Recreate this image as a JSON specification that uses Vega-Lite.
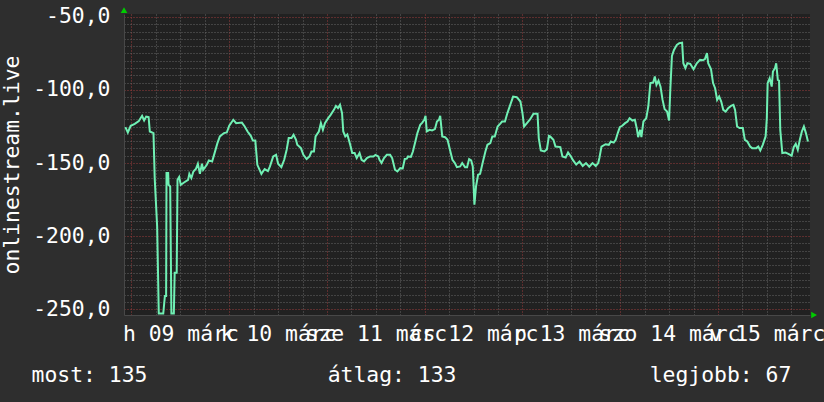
{
  "$schema": "https://vega.github.io/schema/vega-lite/v6.json",
  "width": 686,
  "height": 301,
  "autosize": "none",
  "padding": {"left": 124, "top": 14, "right": 14, "bottom": 87},
  "background": "#2e2e2e",
  "config": {"view": {"fill": "#212121", "stroke": null}, "font": "DejaVu Sans Mono", "axis": {"labelOverlap": false}},
  "datasets": {
    "series": [
      {"h":-1.5,"v":-125.4},{"h":-0.9,"v":-129.1},{"h":-0.2,"v":-124.5},{"h":0.8,"v":-123.2},{"h":1.8,"v":-121.3},{"h":2.6,"v":-117.7},{"h":3.1,"v":-120.9},{"h":3.6,"v":-118.2},{"h":4.2,"v":-118.6},{"h":4.5,"v":-128.4},{"h":5.4,"v":-129.5},{"h":5.7,"v":-160.3},{"h":6.3,"v":-193.4},{"h":6.7,"v":-253},{"h":7.8,"v":-253},{"h":8.2,"v":-241},{"h":8.5,"v":-241},{"h":8.6,"v":-156.9},{"h":9.0,"v":-156.9},{"h":9.1,"v":-164.9},{"h":9.5,"v":-166},{"h":9.8,"v":-253},{"h":10.4,"v":-253},{"h":10.6,"v":-225},{"h":11.1,"v":-225},{"h":11.3,"v":-161.5},{"h":11.7,"v":-159.6},{"h":12.1,"v":-164.9},{"h":12.9,"v":-163.3},{"h":13.9,"v":-161.5},{"h":14.2,"v":-157.4},{"h":14.7,"v":-160.3},{"h":15.2,"v":-155.8},{"h":15.8,"v":-154.1},{"h":16.3,"v":-150.5},{"h":16.8,"v":-157.4},{"h":17.3,"v":-150.5},{"h":17.6,"v":-154.6},{"h":18.5,"v":-151.2},{"h":19.0,"v":-148.2},{"h":19.8,"v":-148.9},{"h":20.4,"v":-143.2},{"h":21.1,"v":-136.4},{"h":21.7,"v":-131.8},{"h":22.7,"v":-129.5},{"h":23.4,"v":-129.1},{"h":24.0,"v":-124.5},{"h":25.0,"v":-120.4},{"h":25.7,"v":-122.7},{"h":27.1,"v":-122.3},{"h":27.8,"v":-125},{"h":28.5,"v":-128.4},{"h":29.3,"v":-131.4},{"h":29.8,"v":-134.6},{"h":30.4,"v":-134.6},{"h":30.9,"v":-151.2},{"h":31.9,"v":-157.4},{"h":32.7,"v":-154.1},{"h":33.5,"v":-155.5},{"h":34.0,"v":-152.3},{"h":34.8,"v":-145.5},{"h":35.5,"v":-144.4},{"h":36.0,"v":-150.5},{"h":36.8,"v":-152.8},{"h":37.5,"v":-147.8},{"h":38.1,"v":-140.9},{"h":38.6,"v":-132.9},{"h":39.3,"v":-132.9},{"h":39.8,"v":-130.7},{"h":40.4,"v":-134.1},{"h":40.7,"v":-137.5},{"h":41.6,"v":-139.8},{"h":42.2,"v":-144.4},{"h":43.0,"v":-147.3},{"h":43.7,"v":-145.5},{"h":44.2,"v":-142.1},{"h":44.8,"v":-142.1},{"h":45.2,"v":-131.8},{"h":46.0,"v":-128.4},{"h":46.5,"v":-122.7},{"h":47.0,"v":-127.3},{"h":47.5,"v":-122.7},{"h":48.3,"v":-119.3},{"h":48.9,"v":-117},{"h":49.7,"v":-113.6},{"h":50.2,"v":-110.9},{"h":50.7,"v":-112.4},{"h":51.2,"v":-110.2},{"h":51.7,"v":-115.8},{"h":52.0,"v":-128.4},{"h":52.5,"v":-131.8},{"h":53.0,"v":-130.4},{"h":53.7,"v":-137.5},{"h":54.2,"v":-143.2},{"h":54.8,"v":-143.2},{"h":55.3,"v":-146.6},{"h":56.0,"v":-143.2},{"h":56.5,"v":-147.8},{"h":57.1,"v":-148.9},{"h":57.8,"v":-146.6},{"h":58.6,"v":-145.5},{"h":59.4,"v":-145.5},{"h":59.9,"v":-144.4},{"h":60.6,"v":-145.5},{"h":60.9,"v":-147.8},{"h":61.4,"v":-150},{"h":62.0,"v":-146.6},{"h":62.7,"v":-144.4},{"h":63.5,"v":-144.4},{"h":64.0,"v":-146.6},{"h":64.7,"v":-154.6},{"h":65.3,"v":-155.8},{"h":66.0,"v":-153.5},{"h":66.6,"v":-153.7},{"h":67.1,"v":-147.2},{"h":67.6,"v":-147},{"h":67.9,"v":-145.5},{"h":68.6,"v":-145.8},{"h":69.1,"v":-142.1},{"h":69.7,"v":-135.3},{"h":70.2,"v":-129.5},{"h":70.9,"v":-123.8},{"h":71.4,"v":-122.3},{"h":71.9,"v":-120.4},{"h":72.2,"v":-117.7},{"h":72.5,"v":-128.4},{"h":73.2,"v":-127.3},{"h":73.8,"v":-127.7},{"h":74.5,"v":-126.8},{"h":75.0,"v":-121.6},{"h":75.5,"v":-120.4},{"h":75.8,"v":-117.7},{"h":76.3,"v":-131.8},{"h":77.0,"v":-132.3},{"h":77.6,"v":-134.1},{"h":78.3,"v":-142.1},{"h":78.8,"v":-147.8},{"h":79.4,"v":-150},{"h":79.9,"v":-152.8},{"h":80.7,"v":-152.3},{"h":81.2,"v":-150},{"h":81.9,"v":-152.8},{"h":82.4,"v":-152.8},{"h":82.9,"v":-147.3},{"h":83.4,"v":-148.2},{"h":83.8,"v":-152.3},{"h":84.2,"v":-178.5},{"h":84.6,"v":-166},{"h":85.1,"v":-158},{"h":85.6,"v":-157.4},{"h":86.3,"v":-148.9},{"h":86.9,"v":-142.1},{"h":87.4,"v":-137.5},{"h":88.1,"v":-136.4},{"h":88.6,"v":-131.8},{"h":89.2,"v":-131.8},{"h":89.9,"v":-125},{"h":90.5,"v":-123.2},{"h":91.0,"v":-121.6},{"h":91.7,"v":-121.6},{"h":92.3,"v":-115.8},{"h":93.0,"v":-110.2},{"h":93.7,"v":-104.5},{"h":94.6,"v":-104.9},{"h":95.5,"v":-107.9},{"h":96.0,"v":-115.8},{"h":96.4,"v":-125},{"h":97.1,"v":-122.7},{"h":97.9,"v":-120},{"h":98.7,"v":-116.3},{"h":99.7,"v":-116.3},{"h":100.0,"v":-132.9},{"h":100.5,"v":-141.4},{"h":101.4,"v":-142.1},{"h":102.0,"v":-140.5},{"h":102.5,"v":-131.4},{"h":102.8,"v":-131.8},{"h":103.6,"v":-134.1},{"h":104.1,"v":-138.7},{"h":105.3,"v":-139.1},{"h":105.8,"v":-145.5},{"h":106.6,"v":-146.2},{"h":107.2,"v":-142.8},{"h":107.9,"v":-145.5},{"h":108.4,"v":-148},{"h":109.2,"v":-151},{"h":110.0,"v":-149},{"h":110.8,"v":-152},{"h":111.6,"v":-150},{"h":112.4,"v":-152.5},{"h":113.2,"v":-150},{"h":114.0,"v":-152},{"h":114.6,"v":-150},{"h":114.9,"v":-146.4},{"h":115.4,"v":-138.7},{"h":116.4,"v":-137.1},{"h":117.2,"v":-137.5},{"h":117.7,"v":-135.3},{"h":118.4,"v":-136},{"h":118.9,"v":-134.1},{"h":119.4,"v":-129.5},{"h":119.9,"v":-125.4},{"h":120.5,"v":-124.5},{"h":121.2,"v":-122.7},{"h":121.8,"v":-121.6},{"h":122.3,"v":-119.3},{"h":123.0,"v":-120.9},{"h":123.6,"v":-120.4},{"h":124.1,"v":-126.8},{"h":124.4,"v":-132.3},{"h":124.9,"v":-127.3},{"h":125.2,"v":-132.3},{"h":125.7,"v":-121.6},{"h":126.4,"v":-119.3},{"h":126.9,"v":-111.3},{"h":127.4,"v":-95.3},{"h":128.1,"v":-94.9},{"h":128.5,"v":-90.8},{"h":128.9,"v":-96.5},{"h":129.4,"v":-93.6},{"h":129.9,"v":-97.7},{"h":130.4,"v":-106.8},{"h":130.9,"v":-113.1},{"h":131.5,"v":-114.8},{"h":132.0,"v":-120.9},{"h":132.3,"v":-99.9},{"h":132.7,"v":-76.7},{"h":133.2,"v":-72.6},{"h":133.9,"v":-69.1},{"h":134.5,"v":-68},{"h":135.2,"v":-67.6},{"h":135.5,"v":-81.7},{"h":136.0,"v":-85.1},{"h":136.5,"v":-81.7},{"h":137.2,"v":-82.1},{"h":138.0,"v":-85.8},{"h":138.8,"v":-81.7},{"h":139.6,"v":-79.4},{"h":140.3,"v":-79.6},{"h":140.8,"v":-78.9},{"h":141.3,"v":-74.8},{"h":141.6,"v":-81.7},{"h":142.3,"v":-85.8},{"h":142.8,"v":-95.3},{"h":143.3,"v":-98.8},{"h":143.8,"v":-106.8},{"h":144.3,"v":-104.5},{"h":144.8,"v":-107.9},{"h":145.3,"v":-113.6},{"h":145.9,"v":-114.8},{"h":146.5,"v":-112.4},{"h":147.2,"v":-110.9},{"h":147.8,"v":-110.2},{"h":148.2,"v":-113.6},{"h":148.7,"v":-125},{"h":149.3,"v":-126.1},{"h":150.1,"v":-126.1},{"h":150.6,"v":-134.1},{"h":151.2,"v":-135.3},{"h":151.9,"v":-138.7},{"h":152.4,"v":-139.8},{"h":153.4,"v":-139.8},{"h":153.9,"v":-138.7},{"h":154.4,"v":-141.4},{"h":155.0,"v":-137.5},{"h":155.7,"v":-131.8},{"h":156.0,"v":-119.3},{"h":156.2,"v":-95.3},{"h":156.7,"v":-91.9},{"h":157.2,"v":-97.7},{"h":157.5,"v":-87.4},{"h":158.0,"v":-85.1},{"h":158.3,"v":-81.7},{"h":158.7,"v":-93.1},{"h":159.0,"v":-93.6},{"h":159.3,"v":-127.3},{"h":159.8,"v":-143.2},{"h":160.6,"v":-142.8},{"h":161.3,"v":-143.7},{"h":162.1,"v":-145},{"h":162.6,"v":-139.1},{"h":163.1,"v":-136.9},{"h":163.6,"v":-140.9},{"h":164.1,"v":-134.1},{"h":164.6,"v":-128.4},{"h":165.1,"v":-125},{"h":165.6,"v":-129.5},{"h":166.1,"v":-135.3}
    ]
  },
  "layer": [
    {
      "data": {"name": "series"},
      "mark": {"type": "line", "color": "#70f0b4", "strokeWidth": 2, "clip": true},
      "encoding": {
        "x": {
          "field": "h", "type": "quantitative",
          "scale": {"domain": [-1.84, 166.6], "nice": false, "zero": false},
          "axis": {
            "values": [0,6,12,18,24,30,36,42,48,54,60,66,72,78,84,90,96,102,108,114,120,126,132,138,144,150,156,162],
            "labelExpr": "datum.value % 24 === 12 ? ['h 09 márc','k 10 márc','sze 11 márc','cs 12 márc','p 13 márc','szo 14 márc','v 15 márc'][floor(datum.value / 24)] : ''",
            "labelFont": "DejaVu Sans Mono", "labelFontSize": 21.4, "labelColor": "#ffffff",
            "labelPadding": 8, "labelOverlap": false, "labelFlush": false, "labelBound": false,
            "ticks": false, "tickSize": 0,
            "domain": true, "domainColor": "#484848", "domainWidth": 1,
            "grid": true,
            "gridColor": {"condition": {"test": "datum.value % 24 === 0", "value": "#9a3c3c"}, "value": "#666666"},
            "gridDash": [1, 2], "gridWidth": 1,
            "title": "most: 135\u00a0\u00a0\u00a0\u00a0\u00a0\u00a0\u00a0\u00a0\u00a0\u00a0\u00a0\u00a0\u00a0\u00a0átlag: 133\u00a0\u00a0\u00a0\u00a0\u00a0\u00a0\u00a0\u00a0\u00a0\u00a0\u00a0\u00a0\u00a0\u00a0\u00a0legjobb: 67",
            "titleFont": "DejaVu Sans Mono", "titleFontSize": 21.4, "titleFontWeight": "normal", "titleColor": "#ffffff",
            "titleAnchor": "start", "titleAlign": "left", "titleBaseline": "alphabetic",
            "titleX": -93, "titleY": 66
          }
        },
        "y": {
          "field": "v", "type": "quantitative",
          "scale": {"domain": [-254, -48], "nice": false, "zero": false},
          "axis": {
            "values": [-250,-245,-240,-235,-230,-225,-220,-215,-210,-205,-200,-195,-190,-185,-180,-175,-170,-165,-160,-155,-150,-145,-140,-135,-130,-125,-120,-115,-110,-105,-100,-95,-90,-85,-80,-75,-70,-65,-60,-55,-50],
            "labelExpr": "datum.value % 50 === 0 ? '-' + replace(format(abs(datum.value), '.1f'), '.', ',') : ''",
            "labelFont": "DejaVu Sans Mono", "labelFontSize": 21.4, "labelColor": "#ffffff",
            "labelPadding": 14, "labelOverlap": false, "labelFlush": false, "labelBound": false,
            "ticks": false, "tickSize": 0,
            "domain": true, "domainColor": "#484848", "domainWidth": 1,
            "grid": true,
            "gridColor": {"condition": {"test": "datum.value % 50 === 0", "value": "#9a3c3c"}, "value": "#666666"},
            "gridDash": [1, 2], "gridWidth": 1,
            "title": "onlinestream.live",
            "titleFont": "DejaVu Sans Mono", "titleFontSize": 21.4, "titleFontWeight": "normal", "titleColor": "#ffffff",
            "titlePadding": 10
          }
        }
      }
    },
    {
      "data": {"values": [{}]},
      "mark": {"type": "point", "shape": "triangle-up", "filled": true, "color": "#00cc00", "size": 45, "opacity": 1},
      "encoding": {
        "x": {
          "datum": -1.84, "type": "quantitative",
          "axis": {
            "values": [0,6,12,18,24,30,36,42,48,54,60,66,72,78,84,90,96,102,108,114,120,126,132,138,144,150,156,162],
            "labelExpr": "datum.value % 24 === 12 ? ['h 09 márc','k 10 márc','sze 11 márc','cs 12 márc','p 13 márc','szo 14 márc','v 15 márc'][floor(datum.value / 24)] : ''",
            "labelFont": "DejaVu Sans Mono", "labelFontSize": 21.4, "labelColor": "#ffffff",
            "labelPadding": 8, "labelOverlap": false, "labelFlush": false, "labelBound": false,
            "ticks": false, "tickSize": 0,
            "domain": true, "domainColor": "#484848", "domainWidth": 1,
            "grid": true,
            "gridColor": {"condition": {"test": "datum.value % 24 === 0", "value": "#9a3c3c"}, "value": "#666666"},
            "gridDash": [1, 2], "gridWidth": 1,
            "title": "most: 135\u00a0\u00a0\u00a0\u00a0\u00a0\u00a0\u00a0\u00a0\u00a0\u00a0\u00a0\u00a0\u00a0\u00a0átlag: 133\u00a0\u00a0\u00a0\u00a0\u00a0\u00a0\u00a0\u00a0\u00a0\u00a0\u00a0\u00a0\u00a0\u00a0\u00a0legjobb: 67",
            "titleFont": "DejaVu Sans Mono", "titleFontSize": 21.4, "titleFontWeight": "normal", "titleColor": "#ffffff",
            "titleAnchor": "start", "titleAlign": "left", "titleBaseline": "alphabetic",
            "titleX": -93, "titleY": 66
          }
        },
        "y": {
          "datum": -45.3, "type": "quantitative",
          "axis": {
            "values": [-250,-245,-240,-235,-230,-225,-220,-215,-210,-205,-200,-195,-190,-185,-180,-175,-170,-165,-160,-155,-150,-145,-140,-135,-130,-125,-120,-115,-110,-105,-100,-95,-90,-85,-80,-75,-70,-65,-60,-55,-50],
            "labelExpr": "datum.value % 50 === 0 ? '-' + replace(format(abs(datum.value), '.1f'), '.', ',') : ''",
            "labelFont": "DejaVu Sans Mono", "labelFontSize": 21.4, "labelColor": "#ffffff",
            "labelPadding": 14, "labelOverlap": false, "labelFlush": false, "labelBound": false,
            "ticks": false, "tickSize": 0,
            "domain": true, "domainColor": "#484848", "domainWidth": 1,
            "grid": true,
            "gridColor": {"condition": {"test": "datum.value % 50 === 0", "value": "#9a3c3c"}, "value": "#666666"},
            "gridDash": [1, 2], "gridWidth": 1,
            "title": "onlinestream.live",
            "titleFont": "DejaVu Sans Mono", "titleFontSize": 21.4, "titleFontWeight": "normal", "titleColor": "#ffffff",
            "titlePadding": 10
          }
        }
      }
    },
    {
      "data": {"values": [{}]},
      "mark": {"type": "point", "shape": "triangle-right", "filled": true, "color": "#00cc00", "size": 45, "opacity": 1},
      "encoding": {
        "x": {
          "datum": 167.6, "type": "quantitative",
          "axis": {
            "values": [0,6,12,18,24,30,36,42,48,54,60,66,72,78,84,90,96,102,108,114,120,126,132,138,144,150,156,162],
            "labelExpr": "datum.value % 24 === 12 ? ['h 09 márc','k 10 márc','sze 11 márc','cs 12 márc','p 13 márc','szo 14 márc','v 15 márc'][floor(datum.value / 24)] : ''",
            "labelFont": "DejaVu Sans Mono", "labelFontSize": 21.4, "labelColor": "#ffffff",
            "labelPadding": 8, "labelOverlap": false, "labelFlush": false, "labelBound": false,
            "ticks": false, "tickSize": 0,
            "domain": true, "domainColor": "#484848", "domainWidth": 1,
            "grid": true,
            "gridColor": {"condition": {"test": "datum.value % 24 === 0", "value": "#9a3c3c"}, "value": "#666666"},
            "gridDash": [1, 2], "gridWidth": 1,
            "title": "most: 135\u00a0\u00a0\u00a0\u00a0\u00a0\u00a0\u00a0\u00a0\u00a0\u00a0\u00a0\u00a0\u00a0\u00a0átlag: 133\u00a0\u00a0\u00a0\u00a0\u00a0\u00a0\u00a0\u00a0\u00a0\u00a0\u00a0\u00a0\u00a0\u00a0\u00a0legjobb: 67",
            "titleFont": "DejaVu Sans Mono", "titleFontSize": 21.4, "titleFontWeight": "normal", "titleColor": "#ffffff",
            "titleAnchor": "start", "titleAlign": "left", "titleBaseline": "alphabetic",
            "titleX": -93, "titleY": 66
          }
        },
        "y": {
          "datum": -254, "type": "quantitative",
          "axis": {
            "values": [-250,-245,-240,-235,-230,-225,-220,-215,-210,-205,-200,-195,-190,-185,-180,-175,-170,-165,-160,-155,-150,-145,-140,-135,-130,-125,-120,-115,-110,-105,-100,-95,-90,-85,-80,-75,-70,-65,-60,-55,-50],
            "labelExpr": "datum.value % 50 === 0 ? '-' + replace(format(abs(datum.value), '.1f'), '.', ',') : ''",
            "labelFont": "DejaVu Sans Mono", "labelFontSize": 21.4, "labelColor": "#ffffff",
            "labelPadding": 14, "labelOverlap": false, "labelFlush": false, "labelBound": false,
            "ticks": false, "tickSize": 0,
            "domain": true, "domainColor": "#484848", "domainWidth": 1,
            "grid": true,
            "gridColor": {"condition": {"test": "datum.value % 50 === 0", "value": "#9a3c3c"}, "value": "#666666"},
            "gridDash": [1, 2], "gridWidth": 1,
            "title": "onlinestream.live",
            "titleFont": "DejaVu Sans Mono", "titleFontSize": 21.4, "titleFontWeight": "normal", "titleColor": "#ffffff",
            "titlePadding": 10
          }
        }
      }
    }
  ]
}
